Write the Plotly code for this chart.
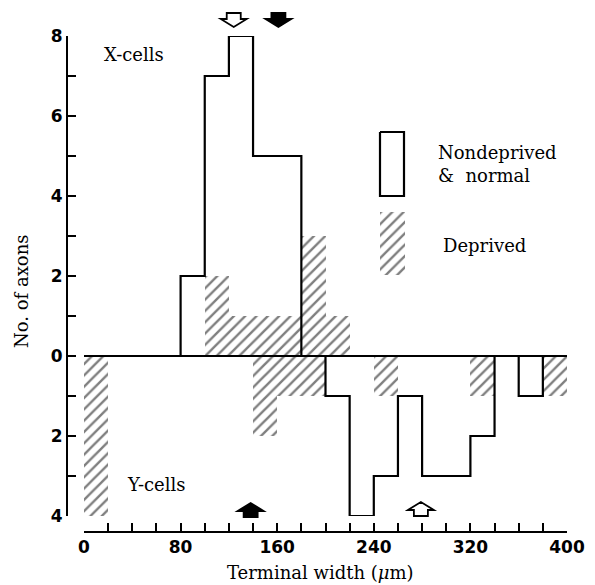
import plotly.graph_objects as go

# ---------------- data ----------------
bin_left = [0, 20, 40, 60, 80, 100, 120, 140, 160, 180,
            200, 220, 240, 260, 280, 300, 320, 340, 360, 380]
bin_width = 20
# X-cells (plotted upward)
x_nondeprived = [0, 0, 0, 0, 2, 7, 8, 5, 5, 0, 0, 0, 0, 0, 0, 0, 0, 0, 0, 0]
x_deprived    = [0, 0, 0, 0, 0, 2, 1, 1, 1, 3, 1, 0, 0, 0, 0, 0, 0, 0, 0, 0]
# Y-cells (plotted downward)
y_nondeprived = [0, 0, 0, 0, 0, 0, 0, 0, 0, 0, 1, 4, 3, 1, 3, 3, 2, 0, 1, 0]
y_deprived    = [4, 0, 0, 0, 0, 0, 0, 2, 1, 1, 0, 0, 1, 0, 0, 0, 1, 0, 0, 1]
# arrows (mean terminal width): open = nondeprived, filled = deprived
x_arrow_open, x_arrow_filled = 124, 161
y_arrow_filled, y_arrow_open = 138, 279

x_tickvals = [0, 20, 40, 60, 80, 100, 120, 140, 160, 180, 200,
              220, 240, 260, 280, 300, 320, 340, 360, 380, 400]
x_ticktext = ["0", "", "", "", "80", "", "", "", "160", "", "",
              "", "240", "", "", "", "320", "", "", "", "400"]
y_tickvals = [-4, -3, -2, -1, 0, 1, 2, 3, 4, 5, 6, 7, 8]
y_ticktext = ["4", "", "2", "", "0", "", "2", "", "4", "", "6", "", "8"]

# ---------------- layout constants (pixels in the 595x585 window) ----------------
OFF = 8                      # page body margin
W, H = 595 - OFF, 585 - OFF  # figure size
def px(xp):
    return (xp - OFF) / W
def py(yp):
    return 1 - (yp - OFF) / H
def lx(xp):
    return xp - OFF
def ly(yp):
    return yp - OFF

SERIF = "DejaVu Serif"
SANS = "DejaVu Sans"
hatch = dict(shape="/", size=8, solidity=0.3, fgcolor="black", bgcolor="white")


def step_path(counts, sign):
    xs, ys = [bin_left[0]], [0]
    for left, c in zip(bin_left, counts):
        xs += [left, left + bin_width]
        ys += [sign * c, sign * c]
    xs.append(bin_left[-1] + bin_width)
    ys.append(0)
    return xs, ys


centers = [b + bin_width / 2 for b in bin_left]

fig = go.Figure()

# hatched (deprived) bars
fig.add_trace(go.Bar(x=centers, y=x_deprived, width=bin_width,
                     marker=dict(color="white", pattern=hatch, line=dict(width=0)),
                     showlegend=False, hoverinfo="skip"))
fig.add_trace(go.Bar(x=centers, y=[-v for v in y_deprived], width=bin_width,
                     marker=dict(color="white", pattern=hatch, line=dict(width=0)),
                     showlegend=False, hoverinfo="skip"))

# outlines (nondeprived & normal)
for counts, sign in ((x_nondeprived, 1), (y_nondeprived, -1)):
    xs, ys = step_path(counts, sign)
    fig.add_trace(go.Scatter(x=xs, y=ys, mode="lines",
                             line=dict(color="black", width=2.2),
                             cliponaxis=False, showlegend=False, hoverinfo="skip"))

# legend drawn in pixel space (overlay axes x2/y2)
fig.add_trace(go.Scatter(x=[lx(380), lx(404), lx(404), lx(380), lx(380)],
                         y=[ly(132), ly(132), ly(196), ly(196), ly(132)],
                         mode="lines", line=dict(color="black", width=2.2),
                         xaxis="x2", yaxis="y2", showlegend=False, hoverinfo="skip"))
fig.add_trace(go.Scatter(x=[lx(380), lx(405), lx(405), lx(380), lx(380)],
                         y=[ly(212), ly(212), ly(275), ly(275), ly(212)],
                         mode="lines", fill="toself", fillcolor="white",
                         fillpattern=hatch, line=dict(width=0, color="rgba(0,0,0,0)"),
                         xaxis="x2", yaxis="y2", showlegend=False, hoverinfo="skip"))

# arrows
def arrow(xval, yp, down, filled):
    s = 1 if down else -1
    pts = [(-7, 7), (7, 7), (7, 1), (13, 1), (0, -7), (-13, 1), (-7, 1)]
    path = "M " + " L ".join(f"{a},{s * b}" for a, b in pts) + " Z"
    return dict(type="path", path=path, xref="x", xsizemode="pixel", xanchor=xval,
                yref="paper", ysizemode="pixel", yanchor=py(yp),
                line=dict(color="black", width=1.8),
                fillcolor="black" if filled else "white", layer="above")

shapes = [
    arrow(x_arrow_open, 20, True, False),
    arrow(x_arrow_filled, 20, True, True),
    arrow(y_arrow_filled, 510, False, True),
    arrow(y_arrow_open, 509, False, False),
]

ann_font = dict(family=SERIF, size=18, color="black")
annotations = [
    dict(text="X-cells", x=102, y=54, xanchor="left", yanchor="middle"),
    dict(text="Y-cells", x=125, y=484, xanchor="left", yanchor="middle"),
    dict(text="Nondeprived", x=436, y=152, xanchor="left", yanchor="middle"),
    dict(text="&amp;  normal", x=436, y=175, xanchor="left", yanchor="middle"),
    dict(text="Deprived", x=441, y=245, xanchor="left", yanchor="middle"),
    dict(text="Terminal width (<i>μ</i>m)", x=320, y=572, xanchor="center", yanchor="middle"),
    dict(text="No. of axons", x=21, y=292, xanchor="center", yanchor="middle", textangle=-90),
]
for a in annotations:
    a.update(x=lx(a["x"]), y=ly(a["y"]), xref="x2", yref="y2", showarrow=False, font=ann_font)

fig.update_layout(
    width=W, height=H,
    margin=dict(l=0, r=0, t=0, b=0, autoexpand=False),
    paper_bgcolor="white", plot_bgcolor="rgba(0,0,0,0)",
    barmode="overlay", bargap=0,
    shapes=shapes, annotations=annotations,
    xaxis=dict(domain=[px(84), px(567)], range=[0, 400], anchor="free", position=py(532),
               showline=True, linecolor="black", linewidth=2,
               tickmode="array", tickvals=x_tickvals, ticktext=x_ticktext,
               ticks="inside", ticklen=8, tickwidth=1.5, tickcolor="black",
               tickfont=dict(family=SANS, size=17, weight="bold", color="black"),
               showgrid=False, zeroline=False, fixedrange=True),
    yaxis=dict(domain=[py(516), py(36)], range=[-4, 8], anchor="free", position=px(67),
               showline=True, linecolor="black", linewidth=2,
               tickmode="array", tickvals=y_tickvals, ticktext=y_ticktext,
               ticks="inside", ticklen=8, tickwidth=1.5, tickcolor="black",
               tickfont=dict(family=SANS, size=17, weight="bold", color="black"),
               showgrid=False, zeroline=False, fixedrange=True),
    xaxis2=dict(domain=[0, 1], range=[0, W], anchor="y2", visible=False, fixedrange=True),
    yaxis2=dict(domain=[0, 1], range=[H, 0], anchor="x2", visible=False, fixedrange=True),
)

fig.write_html("out.html")
